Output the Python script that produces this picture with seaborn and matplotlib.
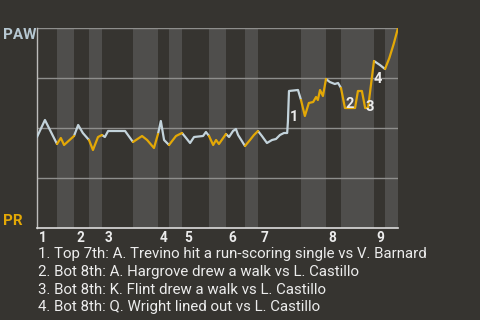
import matplotlib
matplotlib.use("Agg")
import matplotlib.pyplot as plt
import matplotlib.transforms as mtransforms
import seaborn as sns
import pandas as pd
import numpy as np

# ---- data ----
# game progress (0-100) and PAW win probability (%)
progress = [0.0, 2.2, 5.54, 6.6, 7.5, 10.25, 11.4, 12.7, 14.4, 15.5, 16.9, 18.0,
            18.8, 19.7, 23.0, 24.4, 26.59, 29.1, 30.5, 32.4, 33.52, 34.3, 35.2,
            36.57, 38.5, 40.17, 41.3, 42.4, 43.5, 46.0, 46.8, 47.65, 48.8, 49.6,
            50.4, 52.35, 53.2, 54.3, 55.1, 55.7, 57.62, 59.0, 60.1, 61.22, 62.3,
            63.7, 65.1, 66.2, 67.3, 68.4, 69.3, 69.5, 69.8, 72.3, 73.13, 74.2,
            75.3, 76.5, 77.3, 77.8, 78.4, 79.2, 80.06, 81.1, 82.5, 83.4, 84.21,
            85.3, 86.7, 88.1, 88.9, 90.0, 90.9, 91.7, 93.35, 95.0, 96.4, 97.6,
            98.8, 100.0]
paw_wp = [45.5, 54, 42, 45, 41.5, 46, 51.5, 47.5, 44, 39, 45.5, 46.5,
          45.5, 48.5, 48.5, 48.5, 43, 46, 44, 40, 47, 53.5, 44,
          41.5, 46, 47.5, 45, 42.5, 45.5, 46, 48, 46, 41.5, 44,
          42, 47, 45.5, 48.5, 49.5, 46.5, 41, 44, 46.5, 48.5, 46,
          42.5, 44, 44.5, 46.5, 47.5, 47.5, 53, 68.5, 69, 64, 56,
          62.5, 63, 65.5, 64, 69, 66, 74.5, 73, 72, 72.5, 70,
          60, 60, 60, 68.5, 68.5, 60, 60, 83.5, 81.5, 79.5, 85,
          92, 100]
# start of each half inning (top 1, bot 1, top 2, ...)
half_starts = [0.0, 5.54, 10.25, 14.4, 18.0, 26.59, 33.52, 36.57, 40.17, 47.65,
               52.35, 57.62, 61.22, 73.13, 80.06, 84.21, 93.35, 96.4]
game_end = 100.0
innings = ["1", "2", "3", "4", "5", "6", "7", "8", "9"]
event_idx = [52, 68, 73, 74]
event_labels = ["1", "2", "3", "4"]
event_texts = [
    "1. Top 7th: A. Trevino hit a run-scoring single vs V. Barnard",
    "2. Bot 8th: A. Hargrove drew a walk vs L. Castillo",
    "3. Bot 8th: K. Flint drew a walk vs L. Castillo",
    "4. Bot 8th: Q. Wright lined out vs L. Castillo",
]
teams = ["PAW", "PR"]

# ---- styling ----
BG = "#363430"
BAND = "#4f4e4c"
C_PAW = "#c3d3db"
C_PR = "#e3a806"
TXT = "#ececec"

sns.set_theme(style="dark")
plt.rcParams["font.family"] = ["Roboto", "DejaVu Sans"]

fig = plt.figure(figsize=(4.8, 3.2), dpi=100, facecolor=BG)
ax = fig.add_axes([37 / 480, 1 - 228 / 320, 361 / 480, 200 / 320])
ax.set_facecolor(BG)

# build segments per half inning
rows = []
ends = half_starts[1:] + [game_end]
for h, (s, e) in enumerate(zip(half_starts, ends)):
    for x, y in zip(progress, paw_wp):
        if s - 1e-6 <= x <= e + 1e-6:
            rows.append({"x": x, "y": y, "half": h, "team": teams[h % 2]})
df = pd.DataFrame(rows)

# bands for bottom halves
for h, (s, e) in enumerate(zip(half_starts, ends)):
    if h % 2 == 1:
        ax.axvspan(s, e, color=BAND, lw=0, zorder=0)

for gy in [25, 50, 75, 100]:
    ax.axhline(gy, color="#8e8e8c", lw=1, zorder=1)

sns.lineplot(data=df, x="x", y="y", hue="team", units="half", estimator=None,
             sort=False, palette={"PAW": C_PAW, "PR": C_PR}, lw=1.6,
             legend=False, ax=ax, zorder=3)

ax.set_xlim(0, game_end)
ax.set_ylim(0, 100)
ax.set_xticks([])
ax.set_yticks([])
ax.set_xlabel("")
ax.set_ylabel("")
ax.grid(False)
for sp in ["top", "right"]:
    ax.spines[sp].set_visible(False)
ax.spines["left"].set_color("#bdbdbb")
ax.spines["left"].set_linewidth(1)
ax.spines["bottom"].set_color("#dcdcdc")
ax.spines["bottom"].set_linewidth(1.2)

# event labels
for i, lab in zip(event_idx, event_labels):
    offs = {"1": (3.6, -18.7), "2": (0, 2.9), "3": (1.5, 0.7), "4": (3, -13)}[lab]
    ax.annotate(lab, (progress[i], paw_wp[i]), xytext=offs, textcoords="offset points",
                ha="center", va="center", fontsize=10.5, fontweight="bold",
                color=TXT, zorder=5)

# inning labels
tops = half_starts[0::2]
trans = mtransforms.blended_transform_factory(ax.transData, fig.transFigure)
for x, lab in zip(tops, innings):
    ax.text(x + 0.6, 1 - 241.5 / 320, lab, transform=trans, ha="left", va="baseline",
            fontsize=9.8, fontweight="bold", color=TXT)

# team labels
fig.text(2.5 / 480, 1 - 39 / 320, "PAW", ha="left", va="baseline", fontsize=11,
         fontweight="bold", color="#b7c8d2")
fig.text(3 / 480, 1 - 225 / 320, "PR", ha="left", va="baseline", fontsize=11,
         fontweight="bold", color=C_PR)

baselines = [258, 276, 293.5, 311]
for t, b in zip(event_texts, baselines):
    fig.text(37.5 / 480, 1 - b / 320, t, ha="left", va="baseline", fontsize=10.8,
             color=TXT)

fig.savefig("out.png", dpi=100, facecolor=BG)
